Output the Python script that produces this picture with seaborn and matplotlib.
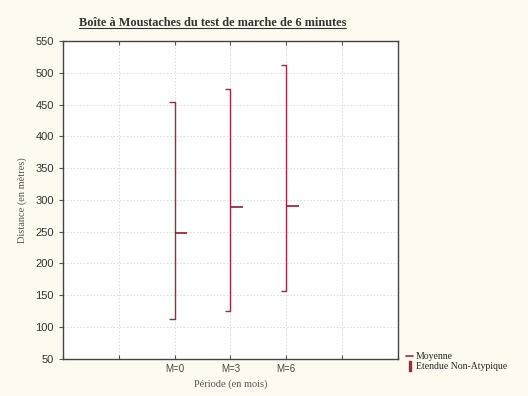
import pandas as pd
import numpy as np
import seaborn as sns
import matplotlib.pyplot as plt
from matplotlib.lines import Line2D

sns.set_style('white')

periodes = ['M=0', 'M=3', 'M=6']
moyennes = [248, 289, 291]
minimums = [113, 126, 156]
maximums = [455, 475, 512]

positions = [2, 3, 4]
couleur = '#9e2a3a'
fond = '#fffaf0'

df = pd.DataFrame({
    'periode': periodes * 2,
    'pos': positions * 2,
    'distance': minimums + maximums,
})

fig = plt.figure(figsize=(5.28, 3.96), dpi=100, facecolor=fond)
ax = fig.add_axes([0.119, 0.094, 0.635, 0.802])
ax.set_facecolor('white')

# etendue non-atypique : segment vertical min -> max
sns.lineplot(data=df, x='pos', y='distance', units='periode', estimator=None,
             color=couleur, lw=1.0, ax=ax, legend=False)
# petits crochets a gauche
ax.hlines(minimums, np.array(positions) - 0.1, positions, color=couleur, lw=1.0)
ax.hlines(maximums, np.array(positions) - 0.1, positions, color=couleur, lw=1.0)
# moyenne : petit trait a droite
ax.hlines(moyennes, positions, np.array(positions) + 0.22, color='#8a2030', lw=1.2)

ax.set_xlim(0, 6)
ax.set_ylim(50, 550)
ax.set_xticks(range(7))
ax.set_xticklabels(['', ''] + periodes + ['', ''], fontsize=7,
                   family='Liberation Sans', color='#444444')
ax.set_yticks(range(50, 551, 50))
ax.set_yticklabels([str(v) for v in range(50, 551, 50)], fontsize=8,
                   family='Liberation Sans', color='#333333')
ax.tick_params(axis='x', direction='in', length=3, top=True, bottom=True, color='#555555')
ax.tick_params(axis='y', direction='out', length=3, left=True, color='#555555')
ax.grid(True, color='#d8d8d8', ls=(0, (2, 2)), lw=0.6)
for s in ax.spines.values():
    s.set_color('#444444')
    s.set_linewidth(1.0)

ax.set_xlabel('Période (en mois)', family='Liberation Serif', fontsize=7.5,
              color='#555555', labelpad=4)
ax.set_ylabel('Distance (en mètres)', family='Liberation Serif', fontsize=7.5,
              color='#555555', labelpad=6)

titre = fig.text(0.402, 0.935, 'Boîte à Moustaches du test de marche de 6 minutes',
                 family='Liberation Serif', fontsize=8.8, weight='bold', ha='center',
                 color='#333333')
fig.canvas.draw()
bb = titre.get_window_extent().transformed(fig.transFigure.inverted())
fig.add_artist(Line2D([bb.x0, bb.x1], [bb.y0 + 0.002, bb.y0 + 0.002], color='#333333', lw=0.8))

handles = [Line2D([0], [0], color=couleur, lw=1.2),
           Line2D([0], [0], color=couleur, lw=1.0, marker='$\\mathrm{I}$', ls='none', markersize=7)]
fig.legend(handles, ['Moyenne', 'Etendue Non-Atypique'], loc='lower left',
           bbox_to_anchor=(0.76, 0.05), frameon=False, handlelength=0.7,
           handletextpad=0.3, labelspacing=0.1, borderpad=0,
           prop={'family': 'Liberation Serif', 'size': 7})

fig.savefig('out.png', dpi=100, facecolor=fond)
